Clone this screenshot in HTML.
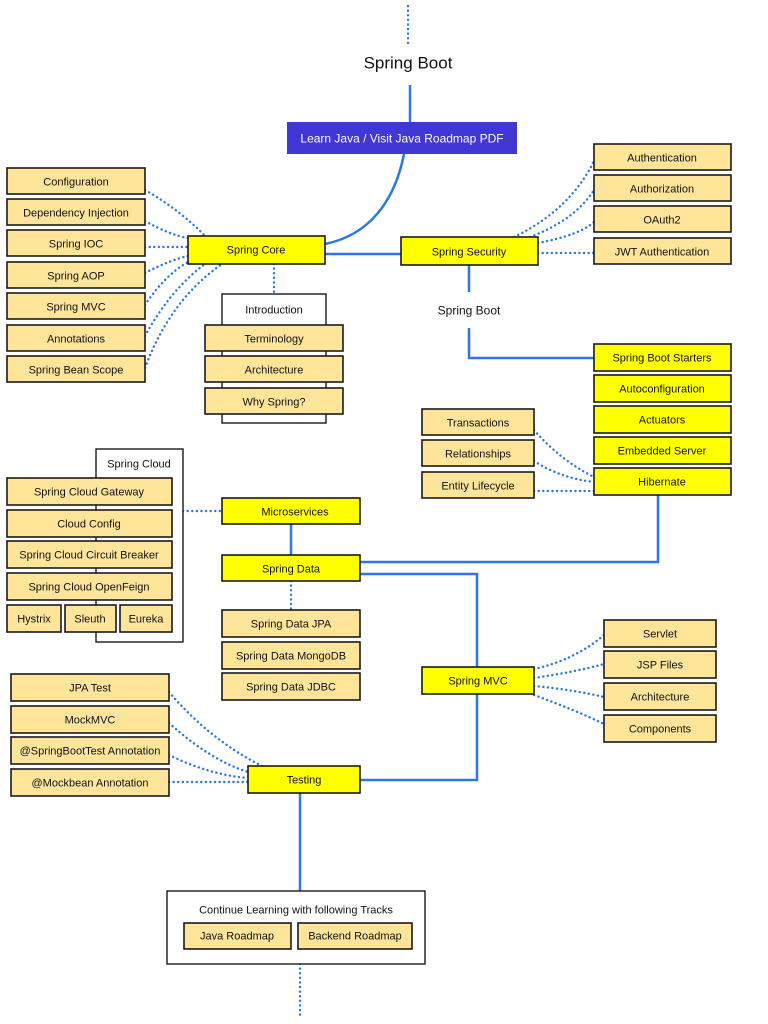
<!DOCTYPE html>
<html><head><meta charset="utf-8"><style>
html,body{margin:0;padding:0;background:#fff;width:768px;height:1024px;overflow:hidden}
svg text{font-family:"Liberation Sans",sans-serif;font-size:11px;fill:#111;text-anchor:middle;dominant-baseline:central}
.t{fill:#FFE599;stroke:#1a1a1a;stroke-width:1.6}
.y{fill:#FFFF00;stroke:#1a1a1a;stroke-width:1.6}
.w{fill:#fff;stroke:#1a1a1a;stroke-width:1.4}
.s{fill:none;stroke:#2B78E4;stroke-width:2.5}
.d{fill:none;stroke:#2B78E4;stroke-width:2.4;stroke-dasharray:0.1 4.5;stroke-linecap:round}
</style></head><body>
<svg width="768" height="1024" viewBox="0 0 768 1024" xmlns="http://www.w3.org/2000/svg">
<g transform="translate(0,0)">
<path class="d" d="M408 6 V46"/>
<path class="s" d="M410 85 V122"/>
<path class="s" d="M404 154 C395 200 370 235 325 244"/>
<path class="s" d="M325 254 H401"/>
<path class="s" d="M469 265 V292"/>
<path class="s" d="M469 328 V358 H594"/>
<path class="s" d="M658 495 V562 H360"/>
<path class="s" d="M291 524 V555"/>
<path class="s" d="M360 574 H477 V780 H360"/>
<path class="s" d="M300 793 V891"/>
<path class="d" d="M300 964 V1015"/>
<path class="d" d="M145 190 Q180 210 205 236"/>
<path class="d" d="M145 221 Q170 235 188 238"/>
<path class="d" d="M145 247 H188"/>
<path class="d" d="M145 273 Q170 260 188 256"/>
<path class="d" d="M145 305 Q165 275 188 262"/>
<path class="d" d="M145 336 Q170 290 205 264"/>
<path class="d" d="M145 368 Q170 300 222 264"/>
<path class="d" d="M274 264 V294"/>
<path class="d" d="M514 237 Q570 210 594 161"/>
<path class="d" d="M530 237 Q575 220 594 190"/>
<path class="d" d="M538 243 Q580 235 594 222"/>
<path class="d" d="M538 253 H594"/>
<path class="d" d="M534 430 Q560 460 594 477"/>
<path class="d" d="M534 461 Q560 478 594 482"/>
<path class="d" d="M534 491 H594"/>
<path class="d" d="M183 511 H222"/>
<path class="d" d="M291 581 V610"/>
<path class="d" d="M534 669 Q575 660 604 635"/>
<path class="d" d="M534 678 Q575 672 604 664"/>
<path class="d" d="M534 686 Q575 690 604 697"/>
<path class="d" d="M534 695 Q575 710 604 724"/>
<path class="d" d="M169 692 Q210 740 262 766"/>
<path class="d" d="M169 723 Q210 760 248 772"/>
<path class="d" d="M169 755 Q210 775 248 778"/>
<path class="d" d="M169 782 H248"/>
</g>
<text x="408" y="63" style="font-size:17px">Spring Boot</text>
<rect x="287" y="122" width="230" height="32" fill="#4136D6"/>
<g transform="translate(0,1.5)">
<text x="402" y="137" style="fill:#fff;font-size:12px">Learn Java / Visit Java Roadmap PDF</text>
</g>
<rect class="t" x="7" y="168" width="138" height="26"/>
<rect class="t" x="7" y="199" width="138" height="26"/>
<rect class="t" x="7" y="230" width="138" height="26"/>
<rect class="t" x="7" y="262" width="138" height="26"/>
<rect class="t" x="7" y="293" width="138" height="26"/>
<rect class="t" x="7" y="325" width="138" height="26"/>
<rect class="t" x="7" y="356" width="138" height="26"/>
<rect class="y" x="188" y="236" width="137" height="28"/>
<rect class="w" x="222" y="294" width="104" height="129"/>
<rect class="t" x="205" y="325" width="138" height="26"/>
<rect class="t" x="205" y="356" width="138" height="26"/>
<rect class="t" x="205" y="388" width="138" height="26"/>
<rect class="y" x="401" y="237" width="137" height="28"/>
<rect class="t" x="594" y="144" width="137" height="26"/>
<rect class="t" x="594" y="175" width="137" height="26"/>
<rect class="t" x="594" y="206" width="137" height="26"/>
<rect class="t" x="594" y="238" width="137" height="26"/>
<rect class="y" x="594" y="344" width="137" height="27"/>
<rect class="y" x="594" y="375" width="137" height="27"/>
<rect class="y" x="594" y="406" width="137" height="27"/>
<rect class="y" x="594" y="437" width="137" height="27"/>
<rect class="y" x="594" y="468" width="137" height="27"/>
<rect class="t" x="422" y="409" width="112" height="26"/>
<rect class="t" x="422" y="440" width="112" height="26"/>
<rect class="t" x="422" y="472" width="112" height="26"/>
<rect class="w" x="96" y="449" width="87" height="193"/>
<rect class="t" x="7" y="478" width="165" height="27"/>
<rect class="t" x="7" y="510" width="165" height="27"/>
<rect class="t" x="7" y="541" width="165" height="27"/>
<rect class="t" x="7" y="573" width="165" height="27"/>
<rect class="t" x="7" y="605" width="54" height="27"/>
<rect class="t" x="65" y="605" width="51" height="27"/>
<rect class="t" x="120" y="605" width="52" height="27"/>
<rect class="y" x="222" y="498" width="138" height="26"/>
<rect class="y" x="222" y="555" width="138" height="26"/>
<rect class="t" x="222" y="610" width="138" height="27"/>
<rect class="t" x="222" y="642" width="138" height="27"/>
<rect class="t" x="222" y="673" width="138" height="27"/>
<rect class="y" x="422" y="667" width="112" height="27"/>
<rect class="t" x="604" y="620" width="112" height="27"/>
<rect class="t" x="604" y="651" width="112" height="27"/>
<rect class="t" x="604" y="683" width="112" height="27"/>
<rect class="t" x="604" y="715" width="112" height="27"/>
<rect class="t" x="11" y="674" width="158" height="27"/>
<rect class="t" x="11" y="706" width="158" height="27"/>
<rect class="t" x="11" y="737" width="158" height="27"/>
<rect class="t" x="11" y="769" width="158" height="27"/>
<rect class="y" x="248" y="766" width="112" height="27"/>
<rect class="w" x="167" y="891" width="258" height="73"/>
<rect class="t" x="184" y="923" width="107" height="26"/>
<rect class="t" x="298" y="923" width="114" height="26"/>
<g transform="translate(0,1.5)">
<text x="76" y="181">Configuration</text>
<text x="76" y="212">Dependency Injection</text>
<text x="76" y="243">Spring IOC</text>
<text x="76" y="275">Spring AOP</text>
<text x="76" y="306">Spring MVC</text>
<text x="76" y="338">Annotations</text>
<text x="76" y="369">Spring Bean Scope</text>
<text x="256" y="249">Spring Core</text>
<text x="274" y="309">Introduction</text>
<text x="274" y="338">Terminology</text>
<text x="274" y="369">Architecture</text>
<text x="274" y="401">Why Spring?</text>
<text x="469" y="251">Spring Security</text>
<text x="662" y="157">Authentication</text>
<text x="662" y="188">Authorization</text>
<text x="662" y="219">OAuth2</text>
<text x="662" y="251">JWT Authentication</text>
<text x="469" y="309" style="font-size:12px">Spring Boot</text>
<text x="662" y="357">Spring Boot Starters</text>
<text x="662" y="388">Autoconfiguration</text>
<text x="662" y="419">Actuators</text>
<text x="662" y="450">Embedded Server</text>
<text x="662" y="481">Hibernate</text>
<text x="478" y="422">Transactions</text>
<text x="478" y="453">Relationships</text>
<text x="478" y="485">Entity Lifecycle</text>
<text x="139" y="463">Spring Cloud</text>
<text x="89" y="491">Spring Cloud Gateway</text>
<text x="89" y="523">Cloud Config</text>
<text x="89" y="554">Spring Cloud Circuit Breaker</text>
<text x="89" y="586">Spring Cloud OpenFeign</text>
<text x="34" y="618">Hystrix</text>
<text x="90" y="618">Sleuth</text>
<text x="146" y="618">Eureka</text>
<text x="295" y="511">Microservices</text>
<text x="291" y="568">Spring Data</text>
<text x="291" y="623">Spring Data JPA</text>
<text x="291" y="655">Spring Data MongoDB</text>
<text x="291" y="686">Spring Data JDBC</text>
<text x="478" y="680">Spring MVC</text>
<text x="660" y="633">Servlet</text>
<text x="660" y="664">JSP Files</text>
<text x="660" y="696">Architecture</text>
<text x="660" y="728">Components</text>
<text x="90" y="687">JPA Test</text>
<text x="90" y="719">MockMVC</text>
<text x="90" y="750">@SpringBootTest Annotation</text>
<text x="90" y="782">@Mockbean Annotation</text>
<text x="304" y="779">Testing</text>
<text x="296" y="909">Continue Learning with following Tracks</text>
<text x="237" y="935">Java Roadmap</text>
<text x="355" y="935">Backend Roadmap</text>
</g>
</svg>
</body></html>
